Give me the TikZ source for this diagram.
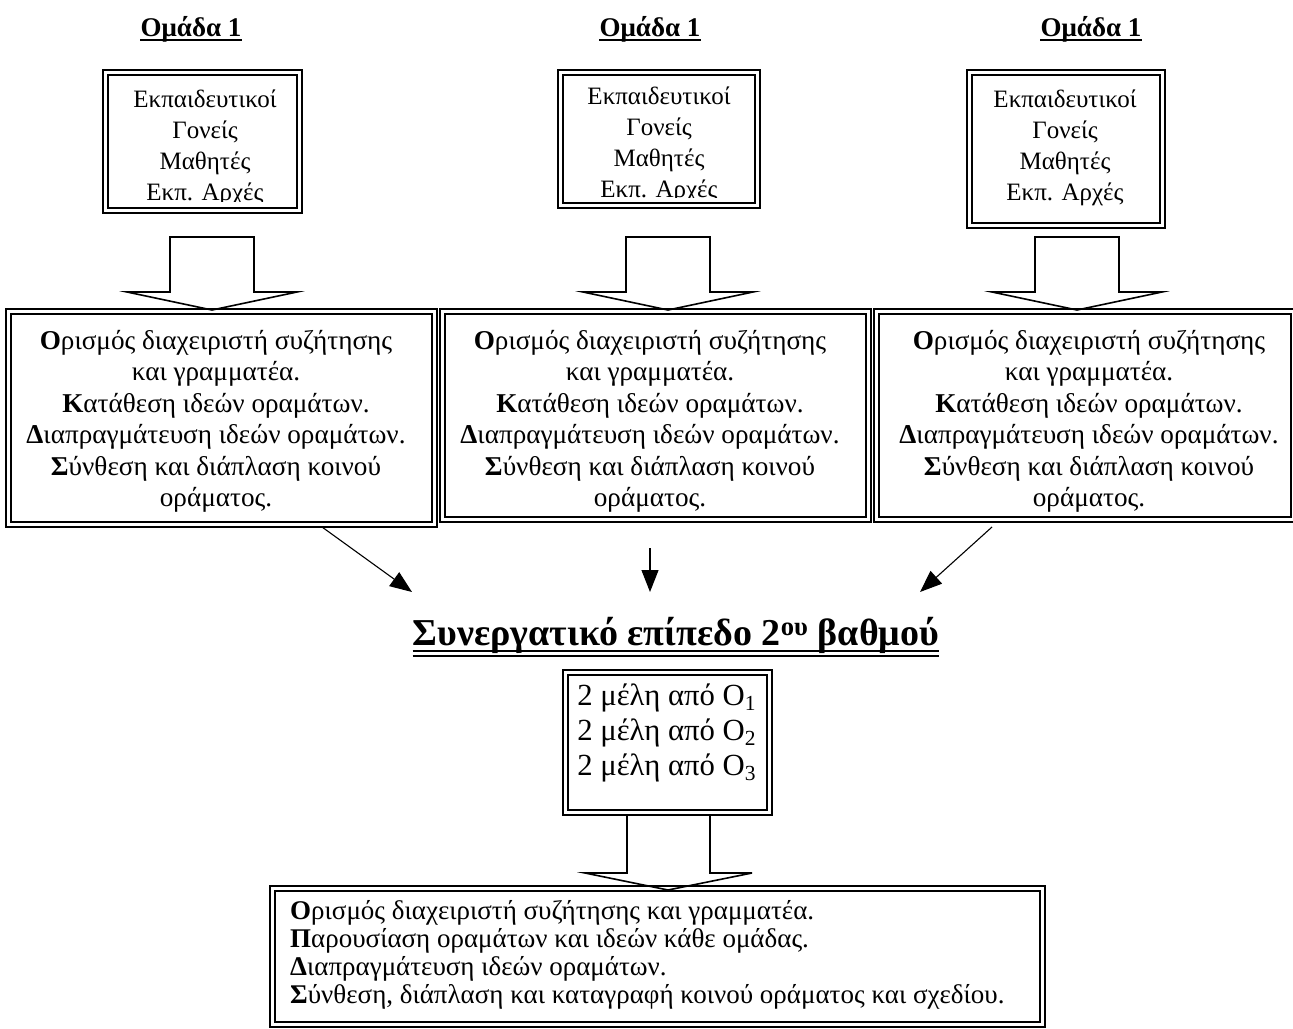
\documentclass[tikz,border=0pt]{standalone}
\usepackage{fontspec}
\setmainfont{Liberation Serif}
\usetikzlibrary{arrows.meta,calc}
% double frame: a pair of rectangles between two named corners
\newcommand\dframe[5]{%
  \draw[#3] (#1) rectangle (#2);
  \draw[#4] ($(#1)+(#5,#5)$) rectangle ($(#2)+(-#5,-#5)$);}
\begin{document}
\begin{tikzpicture}[x=1pt,y=-1pt,
  thinline/.style={line width=1.1pt},
  heavyline/.style={line width=2.4pt},
  blockarrow/.style={draw, line width=1.6pt, fill=white, line join=miter},
  link/.style={line width=1.1pt, -{Triangle[length=22pt,width=17pt]}},
  txt/.style={font=\fontsize{24}{#1}\selectfont, inner sep=0pt},
  body/.style={txt=29.8, align=center, anchor=north, scale=1.042, transform shape},
  task/.style={txt=27.8, align=center, anchor=north, scale=1.133, transform shape},
  grouphead/.style={font=\fontsize{27}{30}\selectfont\bfseries, inner sep=0pt, anchor=base},
]
\useasboundingbox (0,0) rectangle (1293,1028);

% group headings
\node[grouphead] (g1) at (191,36) {Ομάδα 1\ };
\node[grouphead] (g2) at (650,36) {Ομάδα 1};
\node[grouphead] (g3) at (1091,36) {Ομάδα 1};
\foreach \g in {g1,g2,g3}
  \draw[line width=1.4pt] ($(\g.base west)+(0,4)$) -- ($(\g.base east)+(0,4)$);

% member boxes
\coordinate (m1nw) at (103,70);  \coordinate (m1se) at (302,213);
\coordinate (m2nw) at (558,70);  \coordinate (m2se) at (760,208);
\coordinate (m3nw) at (967,70);  \coordinate (m3se) at (1165,228);
\dframe{m1nw}{m1se}{thinline}{heavyline}{5}
\dframe{m2nw}{m2se}{thinline}{heavyline}{5}
\dframe{m3nw}{m3se}{thinline}{heavyline}{5}
\begin{scope}
  \clip (103,70) rectangle (302,201);
  \node[body] (m1) at (205,90) {Εκπαιδευτικοί\\Γονείς\\Μαθητές\\Εκπ. Αρχές};
\end{scope}
\begin{scope}
  \clip (558,70) rectangle (760,197);
  \node[body] (m2) at (659,87) {Εκπαιδευτικοί\\Γονείς\\Μαθητές\\Εκπ. Αρχές};
\end{scope}
\node[body] (m3) at (1065,90) {Εκπαιδευτικοί\\Γονείς\\Μαθητές\\Εκπ. Αρχές};

% block arrows from member boxes to task boxes
\foreach \c in {212,668,1077}
  \draw[blockarrow] (\c-42,237) -- (\c+42,237) -- (\c+42,292) -- (\c+85,292)
    -- (\c,310) -- (\c-85,292) -- (\c-42,292) -- cycle;

% task boxes of the groups
\coordinate (t1nw) at (6,309);    \coordinate (t1se) at (437,527);
\coordinate (t2nw) at (440,309);  \coordinate (t2se) at (871,522);
\coordinate (t3nw) at (874,309);  \coordinate (t3se) at (1296,522);
\dframe{t1nw}{t1se}{heavyline}{thinline}{5}
\dframe{t2nw}{t2se}{heavyline}{thinline}{5}
\dframe{t3nw}{t3se}{heavyline}{thinline}{5}
\node[task] (t1) at (216,330) {\textbf{Ο}ρισμός διαχειριστή συζήτησης\\και γραμματέα.\\\textbf{Κ}ατάθεση ιδεών οραμάτων.\\\textbf{Δ}ιαπραγμάτευση ιδεών οραμάτων.\\\textbf{Σ}ύνθεση και διάπλαση κοινού\\οράματος.};
\node[task] (t2) at (650,330) {\textbf{Ο}ρισμός διαχειριστή συζήτησης\\και γραμματέα.\\\textbf{Κ}ατάθεση ιδεών οραμάτων.\\\textbf{Δ}ιαπραγμάτευση ιδεών οραμάτων.\\\textbf{Σ}ύνθεση και διάπλαση κοινού\\οράματος.};
\node[task] (t3) at (1089,330) {\textbf{Ο}ρισμός διαχειριστή συζήτησης\\και γραμματέα.\\\textbf{Κ}ατάθεση ιδεών οραμάτων.\\\textbf{Δ}ιαπραγμάτευση ιδεών οραμάτων.\\\textbf{Σ}ύνθεση και διάπλαση κοινού\\οράματος.};

% second level title
\node[font=\fontsize{38}{42}\selectfont\bfseries, inner sep=0pt, anchor=base] (lvl) at (676,645)
  {Συνεργατικό επίπεδο 2\textsuperscript{ου} βαθμού};
\draw[line width=2.2pt] ($(lvl.base west)+(0,6)$) -- ($(lvl.base east)+(0,6)$);
\draw[line width=1.4pt] ($(lvl.base west)+(0,11)$) -- ($(lvl.base east)+(0,11)$);

% arrows into the second level
\coordinate (a1s) at (322,527); \coordinate (a1e) at (412,592);
\coordinate (a2s) at (650,548); \coordinate (a2e) at (650,592);
\coordinate (a3s) at (992,527); \coordinate (a3e) at (920,592);
\draw[link] (a1s) -- (a1e);
\draw[link] (a2s) -- (a2e);
\draw[link] (a3s) -- (a3e);

% representatives box
\coordinate (rnw) at (563,670); \coordinate (rse) at (772,815);
\dframe{rnw}{rse}{thinline}{heavyline}{5}
\node[txt=27.4, align=left, anchor=west, scale=1.28, transform shape] (reps) at (577,733)
  {2 μέλη από Ο\textsubscript{1}\\2 μέλη από Ο\textsubscript{2}\\2 μέλη από Ο\textsubscript{3}};

% block arrow to the joint task box
\draw[blockarrow] (627,815) -- (710,815) -- (710,873) -- (752,873)
  -- (668,890) -- (585,873) -- (627,873) -- cycle;

% joint task box
\coordinate (jnw) at (270,886); \coordinate (jse) at (1045,1027);
\dframe{jnw}{jse}{heavyline}{thinline}{5}
\begin{scope}
  \clip (270,886) rectangle (1045,1019);
  \node[txt=24.9, align=left, anchor=north west, scale=1.125, transform shape] (joint) at (290,900)
    {\textbf{Ο}ρισμός διαχειριστή συζήτησης και γραμματέα.\\
     \textbf{Π}αρουσίαση οραμάτων και ιδεών κάθε ομάδας.\\
     \textbf{Δ}ιαπραγμάτευση ιδεών οραμάτων.\\
     \textbf{Σ}ύνθεση, διάπλαση και καταγραφή κοινού οράματος και σχεδίου.};
\end{scope}
\end{tikzpicture}
\end{document}
